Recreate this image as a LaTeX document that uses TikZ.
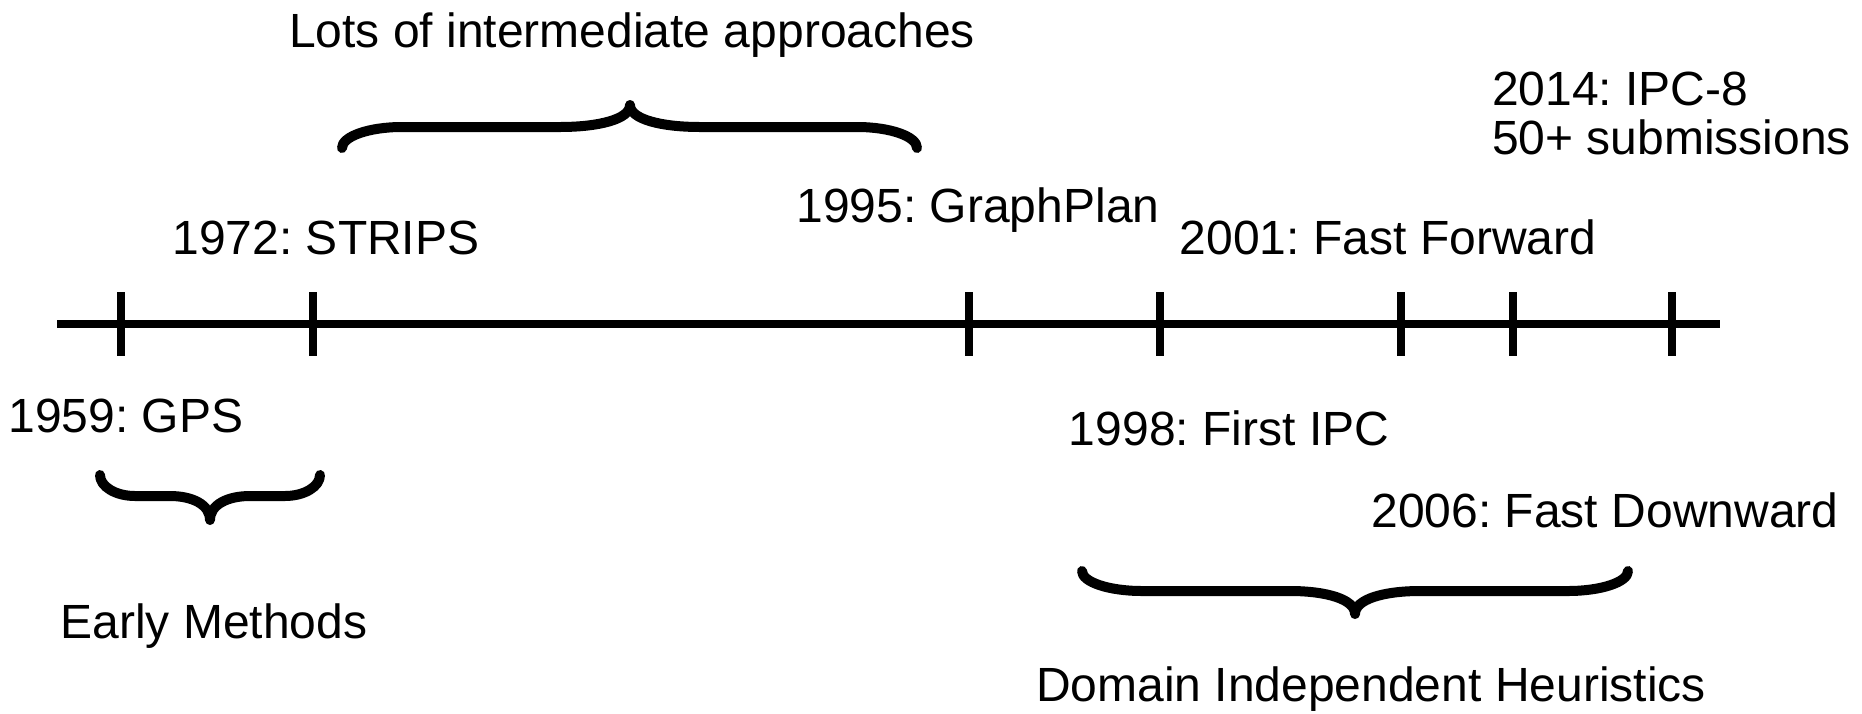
\documentclass[tikz,border=0pt]{standalone}
\usepackage{fontspec}
\setmainfont{Liberation Sans}
\frenchspacing

% Curly brace: ends at x1/x2 (height yE), straight part at yH, tip at (xt,yT).
% a = width of the end curls, b = half width of the central cusp.
\newcommand\tlbrace[8]{%
  \draw[brace] (#1,#4)
    .. controls (#1,{#4+0.552*(#5-#4)}) and ({#1+0.448*#7},#5) .. ({#1+#7},#5)
    -- ({#3-#8},#5)
    .. controls ({#3-0.45*#8},#5) and (#3,{#5+0.35*(#6-#5)}) .. (#3,#6)
    .. controls (#3,{#5+0.35*(#6-#5)}) and ({#3+0.45*#8},#5) .. ({#3+#8},#5)
    -- ({#2-#7},#5)
    .. controls ({#2-0.448*#7},#5) and (#2,{#4+0.552*(#5-#4)}) .. (#2,#4);}

\begin{document}
\begin{tikzpicture}[x=1pt,y=-1pt,
  lbl/.style={font=\fontsize{48}{54}\selectfont, inner sep=0pt, anchor=base},
  lblw/.style={lbl, anchor=base west},
  axisline/.style={line width=8pt},
  tickline/.style={line width=7.5pt},
  brace/.style={line width=10pt, line cap=round, line join=round}]
\useasboundingbox (0,0) rectangle (1862,713);

% time axis
\coordinate (axstart) at (57,324);
\coordinate (axend) at (1720,324);
\draw[axisline] (axstart) -- (axend);

% year ticks
\foreach \tx/\tn in {121/t1,313/t2,969/t3,1160/t4,1401/t5,1513/t6,1672/t7}{
  \coordinate (\tn top) at (\tx,292);
  \coordinate (\tn bot) at (\tx,356);
  \draw[tickline] (\tn top) -- (\tn bot);
}

% events above the axis
\node[lbl] (strips) at (326,254) {1972: STRIPS};
\node[lbl] (graphplan) at (978,222) {1995: GraphPlan};
\node[lbl] (ff) at (1388,254) {2001: Fast Forward};
\node[lblw] (ipc8) at (1492,105) {2014: IPC-8};
\node[lblw] (subm) at (1492,154) {50+ submissions};

% events below the axis
\node[lbl] (gps) at (126,432) {1959: GPS};
\node[lbl] (ipc1) at (1229,445) {1998: First IPC};
\node[lbl] (fd) at (1605,527) {2006: Fast Downward};

% eras
\tlbrace{342}{917}{630}{148}{127}{105}{60}{70}
\node[lbl] (inter) at (632,47) {Lots of intermediate approaches};

\tlbrace{100}{320}{210}{475}{496}{520}{35}{40}
\node[lbl] (early) at (214,638) {Early Methods};

\tlbrace{1082}{1628}{1355}{571}{591}{614}{60}{65}
\node[lbl] (dih) at (1371,701) {Domain Independent Heuristics};
\end{tikzpicture}
\end{document}
